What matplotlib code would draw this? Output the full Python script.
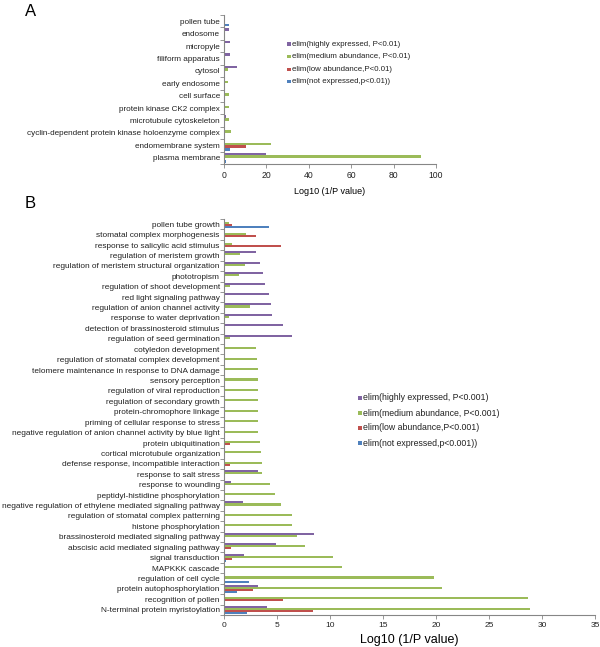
import matplotlib
matplotlib.use("Agg")
import matplotlib.pyplot as plt
import numpy as np
from matplotlib.patches import Rectangle

plt.rcParams['font.family'] = ['Liberation Sans', 'DejaVu Sans']

# ---------------- Data ----------------
series_colors = ['#8064A2', '#9BBB59', '#C0504D', '#4F81BD']

legend_a = ['elim(highly expressed, P<0.01)', 'elim(medium abundance, P<0.01)',
            'elim(low abundance,P<0.01)', 'elim(not expressed,p<0.01))']
cats_a = ['pollen tube', 'endosome', 'micropyle', 'filiform apparatus', 'cytosol',
          'early endosome', 'cell surface', 'protein kinase CK2 complex',
          'microtubule cytoskeleton', 'cyclin-dependent protein kinase holoenzyme complex',
          'endomembrane system', 'plasma membrane']
high_a = [0, 2.3, 2.9, 2.9, 6.1, 0, 0, 0, 0.9, 0, 0, 20.0]
med_a = [0, 0, 0, 0, 1.9, 2.0, 2.5, 2.5, 2.5, 3.3, 22.0, 93.0]
low_a = [0, 0, 0, 0, 0, 0, 0, 0, 0, 0, 10.5, 0]
not_a = [2.3, 0, 0, 0, 0, 0, 0, 0, 0, 0, 2.7, 0.8]
xticks_a = [0, 20, 40, 60, 80, 100]

legend_b = ['elim(highly expressed, P<0.001)', 'elim(medium abundance, P<0.001)',
            'elim(low abundance,P<0.001)', 'elim(not expressed,p<0.001))']
cats_b = ['pollen tube growth', 'stomatal complex morphogenesis',
          'response to salicylic acid stimulus', 'regulation of meristem growth',
          'regulation of meristem structural organization', 'phototropism',
          'regulation of shoot development', 'red light signaling pathway',
          'regulation of anion channel activity', 'response to water deprivation',
          'detection of brassinosteroid stimulus', 'regulation of seed germination',
          'cotyledon development', 'regulation of stomatal complex development',
          'telomere maintenance in response to DNA damage', 'sensory perception',
          'regulation of viral reproduction', 'regulation of secondary growth',
          'protein-chromophore linkage', 'priming of cellular response to stress',
          'negative regulation of anion channel activity by blue light',
          'protein ubiquitination', 'cortical microtubule organization',
          'defense response, incompatible interaction', 'response to salt stress',
          'response to wounding', 'peptidyl-histidine phosphorylation',
          'negative regulation of ethylene mediated signaling pathway',
          'regulation of stomatal complex patterning', 'histone phosphorylation',
          'brassinosteroid mediated signaling pathway',
          'abscisic acid mediated signaling pathway', 'signal transduction',
          'MAPKKK cascade', 'regulation of cell cycle', 'protein autophosphorylation',
          'recognition of pollen', 'N-terminal protein myristoylation']
high_b = [0, 0, 0, 3.0, 3.4, 3.7, 3.9, 4.2, 4.4, 4.5, 5.6, 6.4,
          0, 0, 0, 0, 0, 0, 0, 0, 0, 0, 0, 0,
          3.2, 0.65, 0, 1.75, 0, 0, 8.5, 4.9, 1.85, 0, 0, 3.2, 0, 4.05]
med_b = [0.45, 2.1, 0.8, 1.5, 2.0, 1.4, 0.6, 0, 2.45, 0.5, 0, 0.6,
         3.0, 3.1, 3.2, 3.2, 3.2, 3.2, 3.2, 3.2, 3.2, 3.35, 3.45, 3.6,
         3.6, 4.35, 4.8, 5.4, 6.4, 6.4, 6.85, 7.65, 10.3, 11.1, 19.8, 20.6, 28.7, 28.9]
low_b = [0.72, 3.0, 5.4, 0, 0, 0, 0, 0, 0, 0, 0, 0,
         0, 0, 0, 0, 0, 0, 0, 0, 0, 0.6, 0, 0.55,
         0, 0, 0, 0, 0, 0, 0, 0.7, 0.8, 0, 0, 2.75, 5.6, 8.4]
not_b = [4.2, 0, 0, 0, 0, 0, 0, 0, 0, 0, 0, 0,
         0, 0, 0, 0, 0, 0, 0, 0, 0, 0, 0, 0,
         0, 0, 0, 0, 0, 0, 0, 0, 0.15, 0, 2.4, 1.26, 0, 2.2]
xticks_b = [0, 5, 10, 15, 20, 25, 30, 35]

W, H = 600, 647
fig = plt.figure(figsize=(W / 100, H / 100), dpi=100)

AX_GREY = '#868686'


def fx(px):
    return px / W


def fy(py):
    return 1 - py / H


def draw_panel(ax, cats, series, xticks, bar_h, label_fs, tick_fs):
    n = len(cats)
    y = np.arange(n)
    offsets = [-1.5 * bar_h, -0.5 * bar_h, 0.5 * bar_h, 1.5 * bar_h]
    for vals, col, off in zip(series, series_colors, offsets):
        ax.barh(y + off, vals, height=bar_h, color=col, edgecolor='none')
    ax.set_ylim(n - 0.5, -0.5)
    ax.set_xlim(xticks[0], xticks[-1])
    ax.set_yticks(y)
    ax.set_yticklabels(cats, fontsize=label_fs, color='#222222')
    ax.set_yticks(np.arange(n + 1) - 0.5, minor=True)
    ax.tick_params(axis='y', which='major', length=0, pad=3)
    ax.tick_params(axis='y', which='minor', length=3, width=0.6, color=AX_GREY, direction='out')
    ax.set_xticks(xticks)
    ax.set_xticklabels([str(t) for t in xticks], fontsize=tick_fs, color='#222222')
    ax.tick_params(axis='x', length=3, width=0.6, color=AX_GREY, direction='out', pad=2)
    for s in ['top', 'right']:
        ax.spines[s].set_visible(False)
    for s in ['left', 'bottom']:
        ax.spines[s].set_color(AX_GREY)
        ax.spines[s].set_linewidth(0.8)
    ax.set_facecolor('none')


# Panel A
axA = fig.add_axes([fx(224), fy(164), fx(436 - 224), (164 - 15) / H])
draw_panel(axA, cats_a, [high_a, med_a, low_a, not_a], xticks_a, 0.21, 5.9, 6.2)
axA.set_xlabel('Log10 (1/P value)', fontsize=6.5, labelpad=5)

# Panel B
axB = fig.add_axes([fx(224), fy(615), fx(595 - 224), (615 - 219) / H])
draw_panel(axB, cats_b, [high_b, med_b, low_b, not_b], xticks_b, 0.2, 5.95, 6.0)
axB.set_xlabel('Log10 (1/P value)', fontsize=9, labelpad=4)

# Panel letters
fig.text(fx(25), fy(11), 'A', fontsize=12, va='center', ha='left')
fig.text(fx(25), fy(204), 'B', fontsize=12, va='center', ha='left')


def draw_legend(labels, x0, y0, dy, sq, fs):
    for i, (lab, col) in enumerate(zip(labels, series_colors)):
        yc = y0 + i * dy
        fig.patches.append(Rectangle((fx(x0 - sq / 2), fy(yc + sq / 2)), sq / W, sq / H,
                                     transform=fig.transFigure, facecolor=col,
                                     edgecolor='none'))
        fig.text(fx(x0 + sq / 2 + 1.5), fy(yc), lab, fontsize=fs, va='center', ha='left',
                 color='#222222')


draw_legend(legend_a, 289, 44, 12.6, 3.2, 5.7)
draw_legend(legend_b, 360, 398, 15.0, 3.6, 6.3)

fig.savefig('out.png', dpi=100)
